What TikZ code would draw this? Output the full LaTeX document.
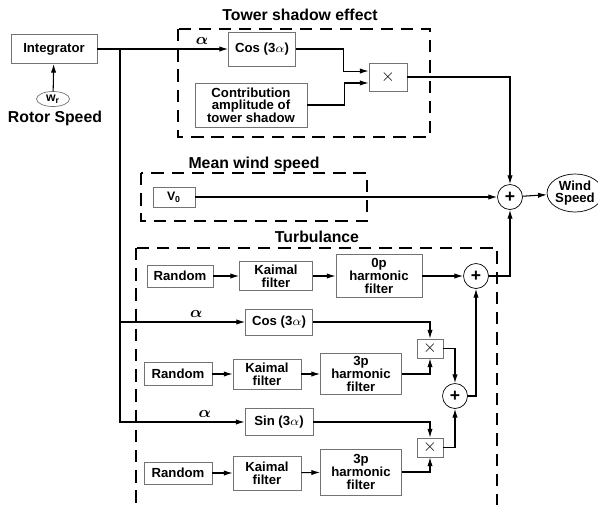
\documentclass[tikz,border=0pt]{standalone}
\usepackage{fontspec}
\setmainfont{Liberation Sans}
\usepackage{amsmath, amssymb}
\usepackage{tikz}
\usetikzlibrary{arrows.meta, shapes.geometric}
\usepackage{xcolor}

\begin{document}
\begin{tikzpicture}[x=0.02cm, y=-0.02cm, semithick,
  >={Latex[length=5pt, width=3pt]},
  every node/.style={font=\bfseries\fontsize{7.5}{7.2}\selectfont},
  blk/.style={rectangle, draw=black!55, thin, align=center, inner sep=0pt},
  junc/.style={circle, draw, thin, minimum size=0.5cm, inner sep=0pt, font=\bfseries\fontsize{10}{10}\selectfont},
  grp/.style={line width=1.3pt, dash pattern=on 7pt off 4.5pt},
  ttl/.style={font=\bfseries\fontsize{9}{10}\selectfont},
  ang/.style={font=\boldmath\fontsize{9}{9}\selectfont, inner sep=2pt}]
  \useasboundingbox (0,0) rectangle (598,504);
  \clip (0,0) rectangle (598,504);

  % rotor angle
  \node[blk, minimum width=1.72cm, minimum height=0.58cm] (integ) at (54,49) {Integrator};
  \node[ellipse, draw=black!55, thin, minimum width=0.66cm, minimum height=0.30cm, inner sep=0pt, font=\bfseries\fontsize{7}{7}\selectfont] (wr) at (53,99) {w\textsubscript{r}};
  \node[ttl] (rotor) at (55,118) {Rotor Speed};
  \coordinate (br) at (120,49);

  % tower shadow
  \node[ttl] (towerT) at (300,15) {Tower shadow effect};
  \draw[grp] (178,29) rectangle (430,137);
  \node[blk, minimum width=1.34cm, minimum height=0.68cm] (cosA) at (262,49) {Cos (3$\alpha$)};
  \node[blk, minimum width=2.24cm, minimum height=0.88cm] (contrib) at (251,105) {Contribution\\amplitude of\\tower shadow};
  \node[blk, minimum width=0.76cm, minimum height=0.56cm, font=\normalfont] (mulT) at (388,77) {$\times$};

  % mean wind speed
  \node[ttl] (meanT) at (254,164) {Mean wind speed};
  \draw[grp] (141,173) rectangle (367,221);
  \node[blk, minimum width=0.84cm, minimum height=0.40cm, font=\bfseries\fontsize{7}{7}\selectfont] (v0) at (174,197) {V\textsubscript{0}};

  \node[junc] (sumM) at (510,197) {+};
  \node[ellipse, draw, thin, minimum width=1.04cm, minimum height=0.76cm, inner sep=0pt, align=center] (wind) at (575,193) {Wind\\Speed};

  % turbulance
  \node[ttl] (turbT) at (317,237) {Turbulance};
  \draw[grp] (136,248) rectangle (497,530);
  \node[blk, minimum width=1.32cm, minimum height=0.44cm] (rnd1) at (180,276) {Random};
  \node[blk, minimum width=1.46cm, minimum height=0.58cm] (kai1) at (276,276) {Kaimal\\filter};
  \node[blk, minimum width=1.72cm, minimum height=0.86cm] (hf0) at (379,276) {0p\\harmonic\\filter};
  \node[junc] (sumA) at (476,276) {+};

  \node[blk, minimum width=1.34cm, minimum height=0.52cm] (cos2) at (279,322) {Cos (3$\alpha$)};
  \node[blk, minimum width=0.52cm, minimum height=0.38cm, font=\normalfont] (mul2) at (430,348.5) {$\times$};
  \node[blk, minimum width=1.36cm, minimum height=0.46cm] (rnd2) at (178,374) {Random};
  \node[blk, minimum width=1.36cm, minimum height=0.60cm] (kai2) at (267,374) {Kaimal\\filter};
  \node[blk, minimum width=1.62cm, minimum height=0.82cm] (hf3a) at (361,374) {3p\\harmonic\\filter};
  \node[junc] (sumB) at (455,396) {+};

  \node[blk, minimum width=1.36cm, minimum height=0.54cm] (sin3) at (279,422) {Sin (3$\alpha$)};
  \node[blk, minimum width=0.52cm, minimum height=0.38cm, font=\normalfont] (mul3) at (430,447.5) {$\times$};
  \node[blk, minimum width=1.36cm, minimum height=0.44cm] (rnd3) at (178,473) {Random};
  \node[blk, minimum width=1.36cm, minimum height=0.68cm] (kai3) at (267,473) {Kaimal\\filter};
  \node[blk, minimum width=1.62cm, minimum height=0.92cm] (hf3b) at (361,472) {3p\\harmonic\\filter};

  % connections
  \draw[->] (wr) -- (integ);
  \draw[->] (integ) -- node[ang, above, pos=0.8] {$\alpha$} (cosA);
  \draw[->] (cosA.east) -- ++(48,0) |- ([yshift=3.4pt]mulT.west);
  \draw[->] (contrib.east) -- ++(37,0) |- ([yshift=-3.4pt]mulT.west);
  \draw[->] (mulT.east) -| (sumM.north);
  \draw[->] (v0) -- (sumM);
  \draw[->] (sumM) -- (wind);

  \draw[->] (rnd1) -- (kai1);
  \draw[->] (kai1) -- (hf0);
  \draw[->] (hf0) -- (sumA);
  \draw[->] (sumA.east) -| (sumM.south);

  \draw[->] (br |- cos2) -- node[ang, above, pos=0.61] {$\alpha$} (cos2);
  \draw[->] (br) |- node[ang, above, pos=0.84] {$\alpha$} (sin3.west);
  \draw[->] (cos2.east) -| (mul2.north);
  \draw[->] (rnd2) -- (kai2);
  \draw[->] (kai2) -- (hf3a);
  \draw[->] (hf3a.east) -| (mul2.south);
  \draw[->] (mul2.east) -| (sumB.north);
  \draw[->] (sumB.east) -| (sumA.south);

  \draw[->] (sin3.east) -| (mul3.north);
  \draw[->] (rnd3) -- (kai3);
  \draw[->] (kai3) -- (hf3b);
  \draw[->] (hf3b.east) -| (mul3.south);
  \draw[->] (mul3.east) -| (sumB.south);
\end{tikzpicture}
\end{document}
